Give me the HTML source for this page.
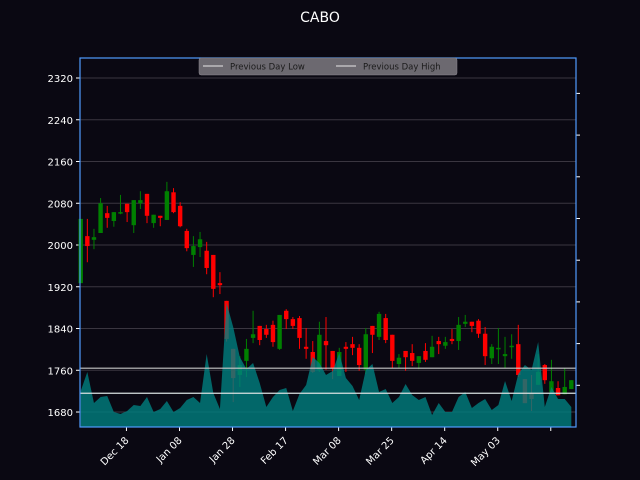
<!DOCTYPE html>
<html><head><meta charset="utf-8"><style>
html,body{margin:0;padding:0;background:#0a0812;}
svg{display:block;font-family:"DejaVu Sans","Liberation Sans",sans-serif;}
</style></head><body>
<svg id="chart" width="640" height="480" viewBox="0 0 640 480">
<rect x="0" y="0" width="640" height="480" fill="#0a0812"/>
<text x="320" y="22" fill="#ffffff" font-size="14" text-anchor="middle">CABO</text>
<g id="grid"></g>
<g id="yaxis"></g>
<g id="xaxis"></g>
<g id="candles"></g>
<g id="vol"></g>
<g id="levels"></g>
<g id="spines"></g>
<g id="legend"></g>
</svg>
<script>
const opens=[1927,2017,2010,2023,2061,2046,2061,2079,2038,2080,2098,2042,2056,2048,2101,2075,2027,1981,1996,1989,1981,1927,1893,1801,1751,1778,1822,1845,1839,1847,1801,1874,1858,1860,1805,1795,1761,1816,1797,1749,1805,1810,1803,1761,1845,1824,1860,1828,1772,1797,1793,1774,1797,1785,1816,1807,1820,1816,1849,1853,1855,1830,1783,1801,1787,1805,1810,1743,1716,1732,1770,1718,1726,1714,1724];
const closes=[2050,1998,2015,2080,2052,2063,2063,2063,2086,2086,2056,2058,2052,2103,2063,2036,1994,1998,2011,1956,1916,1923,1820,1745,1770,1801,1829,1818,1828,1814,1866,1858,1845,1822,1801,1757,1828,1808,1763,1795,1801,1803,1770,1829,1828,1868,1818,1778,1784,1785,1778,1787,1780,1805,1810,1814,1816,1847,1853,1845,1830,1787,1805,1803,1791,1807,1751,1697,1705,1757,1741,1739,1712,1728,1741];
const highs=[2050,2050,2031,2090,2075,2063,2096,2079,2086,2103,2098,2058,2056,2121,2109,2082,2031,2017,2025,2006,1981,1948,1893,1801,1787,1820,1874,1845,1847,1855,1866,1877,1862,1864,1841,1816,1853,1862,1797,1803,1814,1824,1810,1841,1845,1872,1868,1828,1791,1797,1810,1787,1812,1826,1824,1824,1839,1862,1866,1853,1858,1843,1810,1841,1824,1829,1847,1743,1751,1791,1772,1780,1739,1764,1741];
const lows=[1927,1967,1992,2023,2033,2035,2059,2044,2023,2069,2042,2033,2036,2048,2061,2034,1988,1958,1977,1944,1900,1906,1815,1699,1728,1747,1812,1808,1822,1805,1799,1839,1839,1801,1782,1755,1757,1761,1743,1749,1757,1789,1759,1753,1793,1818,1812,1764,1764,1759,1768,1762,1776,1785,1791,1801,1810,1799,1843,1833,1822,1770,1772,1772,1764,1782,1747,1697,1682,1732,1734,1718,1712,1714,1724];
const volumes=[360,550,240,300,310,150,130,160,220,210,300,150,180,260,150,190,270,300,240,730,340,180,1240,1000,700,580,640,440,200,300,370,390,160,330,420,700,640,520,560,740,490,410,270,570,630,350,380,240,300,430,320,270,300,120,240,150,150,300,350,190,240,280,170,220,460,260,530,620,570,850,200,400,280,280,200];
const levelValues=[1716,1764];
const levelNames=["Previous Day Low","Previous Day High"];
const yTicks=[1680,1760,1840,1920,2000,2080,2160,2240,2320];
const xTickIdx=[6.9,14.9,22.9,30.9,38.9,46.9,54.9,62.9,70.9];
const xTickLabels=["Dec 18","Jan 08","Jan 28","Feb 17","Mar 08","Mar 25","Apr 14","May 03",""];
const volTicks=[417,834,1251,1668,2085,2502,2919,3336];

const NS="http://www.w3.org/2000/svg";
const L=80,R=576,T=58,B=427;
function y(v){return 78+(2320-v)*0.5219;}
function x(i){return 80.7+i*6.63;}
function yv(v){return B-v*0.1;}
function mk(tag,attrs,parent){const e=document.createElementNS(NS,tag);for(const k in attrs)e.setAttribute(k,attrs[k]);parent.appendChild(e);return e;}
const g=id=>document.getElementById(id);

yTicks.forEach(t=>{
  const gl=mk('line',{x1:L,x2:R,y1:y(t),y2:y(t),stroke:'#3a3640','stroke-width':1},g('grid'));
  
  
  const tk=mk('line',{x1:L-4,x2:L,y1:y(t),y2:y(t),stroke:'#ffffff','stroke-width':1},g('yaxis'));
  
  
  const tx=mk('text',{x:L-7,y:y(t)+4,fill:'#ffffff','font-size':'10','text-anchor':'end'},g('yaxis'));
  tx.textContent=t;
  
  
});
volTicks.forEach(t=>{
  const tk=mk('line',{x1:R,x2:R+4,y1:yv(t),y2:yv(t),stroke:'#ffffff','stroke-width':1},g('yaxis'));
  
  
});
xTickIdx.forEach((xi,k)=>{
  const tk=mk('line',{x1:x(xi),x2:x(xi),y1:B,y2:B+4,stroke:'#ffffff','stroke-width':1},g('xaxis'));
  
  
  if(xTickLabels[k]){
    const tx=mk('text',{x:x(xi)+3,y:B+14,fill:'#ffffff','font-size':'10','text-anchor':'end',transform:`rotate(-45 ${x(xi)+3} ${B+14})`},g('xaxis'));
    tx.textContent=xTickLabels[k];
    
    
  }
});
opens.forEach((o,i)=>{
  const c=closes[i],up=c>=o,col=up?'#008000':'#ff0000';
  const w=mk('line',{x1:x(i),x2:x(i),y1:y(highs[i]),y2:y(lows[i]),stroke:col,'stroke-width':1},g('candles'));
  
  
  const top=y(Math.max(o,c)),bot=y(Math.min(o,c));
  const b=mk('rect',{x:x(i)-2.2,y:top,width:4.4,height:Math.max(1.5,bot-top),fill:col},g('candles'));
  
  
});
let d=`M${x(0)} ${B}`;
volumes.forEach((v,i)=>{d+=` L${x(i)} ${yv(v)}`;});
d+=` L${x(volumes.length-1)} ${B} Z`;
const area=mk('path',{d:d,fill:'#008080','fill-opacity':0.8},g('vol'));


const lvCols=['#d8e0e0','#c8c8c8'];
levelValues.forEach((v,k)=>{
  const ln=mk('line',{x1:L,x2:R,y1:y(v),y2:y(v),stroke:lvCols[k],'stroke-width':1.2},g('levels'));
  
  
});
const sp=mk('rect',{x:L,y:T,width:R-L,height:B-T,fill:'none',stroke:'#4f9cff','stroke-width':1.2},g('spines'));


const lb=mk('rect',{x:199,y:58,width:258,height:17,rx:2,fill:'#6c6970',stroke:'#8a878e','stroke-width':0.5},g('legend'));


const lx=[203,336];
levelNames.forEach((n,k)=>{
  const ln=mk('line',{x1:lx[k],x2:lx[k]+20,y1:66,y2:66,stroke:'#e8e8e8','stroke-width':1},g('legend'));
  
  
  const t=mk('text',{x:lx[k]+27,y:69.5,fill:'#1a1a1a','font-size':'8.5'},g('legend'));
  t.textContent=n;
  
  
});
</script>
</body></html>
